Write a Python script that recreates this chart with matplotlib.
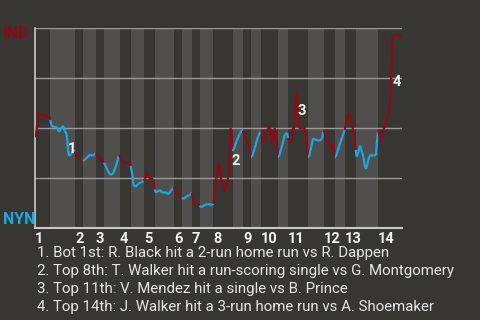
import numpy as np
import matplotlib
matplotlib.use("Agg")
import matplotlib.pyplot as plt
from matplotlib.collections import LineCollection

plt.rcParams['font.family'] = ['Roboto', 'DejaVu Sans']

# ---- data (x = game progress units, y = IND win probability %) ----
play_pos = [0.7, 3.7, 8, 10.7, 12.7, 14, 15.3, 16.3, 18.7, 22, 24, 25.7, 28, 29.7, 31.3, 32.3, 33, 34,
            36.3, 38.7, 39.7, 43, 46.3, 48, 51.3, 55.3, 57.3, 59, 60.7, 64, 66.3, 69, 73, 75.3, 78, 80.7,
            84, 87.3, 90.3, 93, 94.7, 95.7, 97.3, 98.7, 100.7, 103, 106.3, 108.7, 109.7, 112, 114, 118,
            119.7, 120.7, 124.7, 127.3, 131.3, 133, 135.3, 138, 138.7, 141.3, 144.7, 147.3, 148, 151.3,
            154.7, 157, 158, 160.7, 164.7, 166.3, 169.7, 173, 177, 178.7, 181.3, 184, 186.3, 189.7, 192.3,
            194, 194.7, 195.7, 196.7, 197.3, 198.7, 201.3, 204.7, 207, 208, 211.3, 214.7, 216.3, 217,
            219.7, 223, 225.3, 226.3, 228.7, 230.7, 233, 235.3, 237.3, 239.7, 242, 243, 244, 247.3,
            249.7, 252, 253, 255.3, 256.3, 258, 258.7, 259.7, 260.7, 262, 263, 264, 269.7, 271.3, 273,
            274, 276.3, 278, 280.7, 284.7, 287.3, 288, 288.7, 291.3, 294, 296.3, 298, 299.7, 300.7, 304,
            307.3, 309.7, 311.3, 313, 315.3, 318, 320.7, 321.7, 323.3, 325, 326.7, 328.3, 330, 331,
            332.3, 334, 335.7, 338.3, 341, 341.7, 342.3, 343, 344.3, 345.7, 347.7, 350, 351.7, 354.3,
            355.7, 356.7, 357.3, 357.7, 361.7, 364.3, 367]
ind_wp = [45.5, 58.0, 56.2, 56.6, 55.3, 56.2, 54.2, 51.7, 50.5, 50.5, 48.3, 49.5, 51.3, 48.8, 47.5, 44.2,
          39.2, 36.2, 37.2, 39.2, 38.3, 35.5, 33.7, 33.7, 35.0, 37.0, 36.2, 36.7, 37.5, 35.5, 33.8, 32.8,
          28.7, 26.7, 27.2, 30.8, 36.7, 33.8, 32.2, 32.8, 33.3, 31.2, 26.7, 21.2, 20.8, 22.2, 23.0, 23.7,
          24.2, 28.0, 25.0, 24.5, 19.5, 17.8, 19.2, 17.8, 18.0, 17.0, 18.3, 20.3, 20.8, 17.5, 15.8, 15.5,
          14.5, 15.8, 16.7, 17.8, 15.0, 12.5, 11.3, 10.5, 11.7, 12.2, 11.7, 12.2, 25.0, 32.8, 24.2, 18.3,
          22.5, 29.2, 40.8, 50.0, 45.8, 39.2, 39.2, 43.3, 47.2, 49.2, 48.8, 44.5, 39.5, 35.8, 35.8, 40.0,
          45.8, 48.3, 49.2, 43.3, 45.0, 50.0, 50.0, 42.5, 50.0, 41.7, 35.8, 35.8, 41.7, 46.7, 47.8, 45.0,
          43.3, 45.0, 50.0, 49.2, 56.2, 62.8, 67.8, 57.5, 50.0, 50.0, 45.0, 35.8, 35.8, 40.8, 45.0, 44.2,
          43.7, 45.0, 48.3, 49.2, 45.0, 41.7, 40.0, 42.5, 35.8, 35.8, 40.8, 45.8, 49.2, 53.3, 57.5, 55.8,
          49.2, 39.2, 35.8, 38.3, 41.3, 38.7, 35.8, 30.8, 29.7, 31.7, 35.8, 36.7, 36.3, 36.7, 41.7, 45.0,
          49.2, 46.7, 43.3, 47.5, 51.7, 55.8, 57.5, 70.0, 80.8, 95.0, 95.8, 96.9, 96.3, 95.3]

# half-inning boundaries (top 1st, bot 1st, top 2nd, ...), last = end of game
half_bounds = [0, 15, 40, 48, 61, 69, 85, 96, 109, 120, 139, 147, 157, 165, 178, 198, 208, 216,
               226, 243, 253, 273, 289, 300, 310, 321, 343, 367]
innings = ['1', '2', '3', '4', '5', '6', '7', '8', '9', '10', '11', '12', '13', '14']

event_ids = ['1', '2', '3', '4']
event_pos = [37.3, 200.3, 266.3, 361.7]
event_wp = [39.5, 33.8, 58.8, 73.3]
event_text = ["1. Bot 1st: R. Black hit a 2-run home run vs R. Dappen",
              "2. Top 8th: T. Walker hit a run-scoring single vs G. Montgomery",
              "3. Top 11th: V. Mendez hit a single vs B. Prince",
              "4. Top 14th: J. Walker hit a 3-run home run vs A. Shoemaker"]

BG = '#383633'
BAND = '#504f4d'
RED = '#8c0b16'
BLUE = '#19a8e0'

fig = plt.figure(figsize=(4.8, 3.2), dpi=100, facecolor=BG)
ax = fig.add_axes([35/480, 1 - 228.3/320, 367/480, 200/320])
ax.set_facecolor(BG)

# bottom halves shaded lighter
for i in range(1, len(half_bounds) - 1, 2):
    ax.axvspan(half_bounds[i], half_bounds[i + 1], color=BAND, lw=0, zorder=0)

for g in [25, 50, 75, 100]:
    ax.axhline(g, color='#9a9996', lw=1.0, zorder=1)

x = np.array(play_pos, dtype=float)
y = np.array(ind_wp, dtype=float)
pts = np.column_stack([x, y]).reshape(-1, 1, 2)
segs = np.concatenate([pts[:-1], pts[1:]], axis=1)
mid = (x[:-1] + x[1:]) / 2
idx = np.searchsorted(half_bounds, mid, side='right') - 1
cols = [RED if k % 2 == 0 else BLUE for k in idx]
lc = LineCollection(segs, colors=cols, linewidths=1.6, zorder=3, capstyle='butt', joinstyle='miter')
ax.add_collection(lc)

for lab, ex, ey in zip(event_ids, event_pos, event_wp):
    ax.text(ex, ey, lab, color='#f2f2f2', fontsize=10.5, fontweight='bold', ha='center', va='center', zorder=4)

ax.set_xlim(0, 367)
ax.set_ylim(0, 100)
ax.set_yticks([])
ax.set_xticks(half_bounds[0:-1:2])
ax.set_xticklabels(innings)
for t in ax.get_xticklabels():
    t.set_ha('left')
ax.tick_params(axis='x', length=0, pad=2.5, labelsize=10.5, labelcolor='#f2f2f2')
for t in ax.get_xticklabels():
    t.set_fontweight('bold')
for s in ['top', 'right']:
    ax.spines[s].set_visible(False)
ax.spines['left'].set_color('#c8c8c8')
ax.spines['bottom'].set_color('#c8c8c8')
ax.spines['left'].set_linewidth(1.2)
ax.spines['bottom'].set_linewidth(1.5)

fig.text(3/480, 1 - 34/320, 'IND', color=RED, fontsize=11.5, fontweight='bold', ha='left', va='center')
fig.text(3/480, 1 - 219.5/320, 'NYN', color=BLUE, fontsize=11.5, fontweight='bold', ha='left', va='center')

for k, txt in enumerate(event_text):
    fig.text(37/480, 1 - (253.3 + 17.8 * k)/320, txt, color='#e6e6e6', fontsize=10.8, ha='left', va='center')

fig.savefig('out.png', dpi=100, facecolor=BG)
